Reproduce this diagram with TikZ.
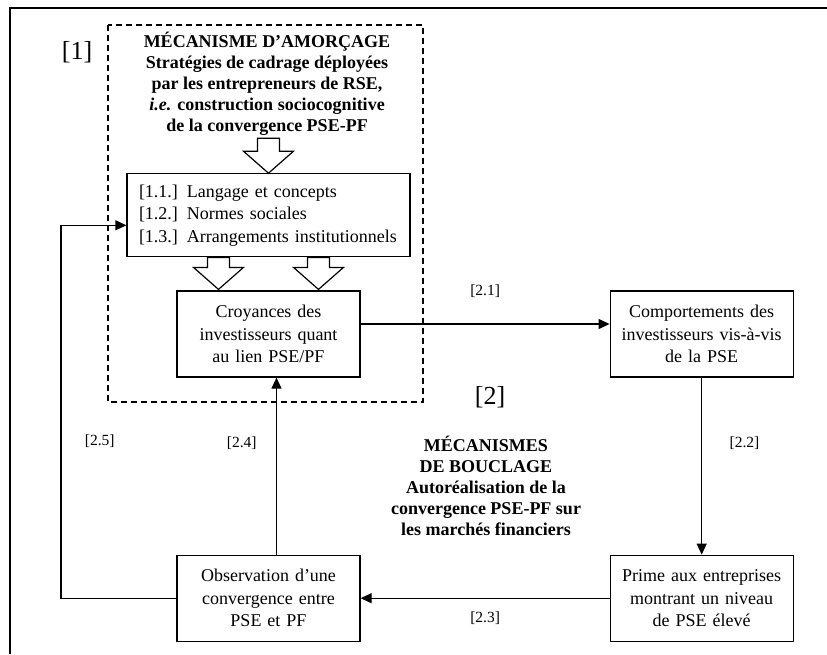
\documentclass[tikz,border=0pt]{standalone}
\usepackage{fontspec}
\setmainfont{Liberation Serif}
\usetikzlibrary{arrows.meta, positioning}

\begin{document}
\begin{tikzpicture}[x=1pt, y=-1pt, line width=1.2pt, >={Triangle[length=11pt, width=10pt]},
    box/.style={draw, align=center, text width=175pt, inner sep=4pt, minimum height=86pt,
        font=\fontsize{18}{22.5}\selectfont},
    lbl/.style={font=\fontsize{15.5}{18}\selectfont},
    big/.style={font=\fontsize{26}{30}\selectfont},
    heading/.style={align=center, font=\fontsize{18}{21}\selectfont\bfseries},
    pics/hollow/.style 2 args={code={
        \draw[line width=1.2pt, fill=white] (-11pt,0) -- (11pt,0) -- (11pt,-#1) -- (25pt,-#1)
            -- (0,{-(#1+#2)}) -- (-25pt,-#1) -- (-11pt,-#1) -- cycle;}}]
    \useasboundingbox (0,0) rectangle (827,654);
    \draw[line width=2pt] (10,654) -- (10,8) -- (827,8);

    % mecanisme d'amorcage
    \draw[line width=2.5pt, dash pattern=on 6pt off 4pt] (108,25) rectangle (423,402);
    \node[big] (lab1) at (77,52) {[1]};
    \node[heading] (amorce) at (267,84) {MÉCANISME D'AMORÇAGE\\
        Stratégies de cadrage déployées\\
        par les entrepreneurs de RSE,\\
        \textit{i.e.} construction sociocognitive\\
        de la convergence PSE-PF};

    \node[box]                                   (croy)  at (268.5,334) {Croyances des\\investisseurs quant\\au lien PSE/PF};
    \node[box, align=left, text width=259pt, inner xsep=12pt, minimum height=83pt,
          above=33pt of croy]                    (leviers) {{[1.1.]} Langage et concepts\\{[1.2.]} Normes sociales\\{[1.3.]} Arrangements institutionnels};
    \node[box, right=249pt of croy]              (comp)  {Comportements des\\investisseurs vis-à-vis\\de la PSE};
    \node[box, below=177pt of comp]              (prime) {Prime aux entreprises\\montrant un niveau\\de PSE élevé};
    \node[box, left=249pt of prime]              (obs)   {Observation d'une\\convergence entre\\PSE et PF};

    \pic at ([yshift=35pt]leviers.north) {hollow={13pt}{22pt}};
    \pic at ([xshift=-50pt]leviers.south) {hollow={10pt}{22pt}};
    \pic at ([xshift=50pt]leviers.south) {hollow={10pt}{22pt}};

    % mecanismes de bouclage
    \node[big] (lab2) at (490,397) {[2]};
    \node[heading] (boucle) at (486,486) {MÉCANISMES\\DE BOUCLAGE\\
        Autoréalisation de la\\convergence PSE-PF sur\\les marchés financiers};

    \coordinate (fbx) at (61,0);
    \draw[->] (croy.east |- 0,324) -- (comp.west |- 0,324) node[lbl, midway, above=22pt] {[2.1]};
    \draw[->] (comp) -- (prime) node[lbl, pos=0.37, right=24pt] {[2.2]};
    \draw[->] (prime) -- (obs) node[lbl, midway, below=10pt] {[2.3]};
    \draw[->] ([xshift=8pt]obs.north) -- ([xshift=8pt]croy.south) node[lbl, pos=0.63, left=16pt] {[2.4]};
    \draw[->] (obs.west) -- (obs.west -| fbx) |- ([yshift=-10pt]leviers.west)
        node[lbl, pos=0.21, right=20pt] {[2.5]};
\end{tikzpicture}
\end{document}
